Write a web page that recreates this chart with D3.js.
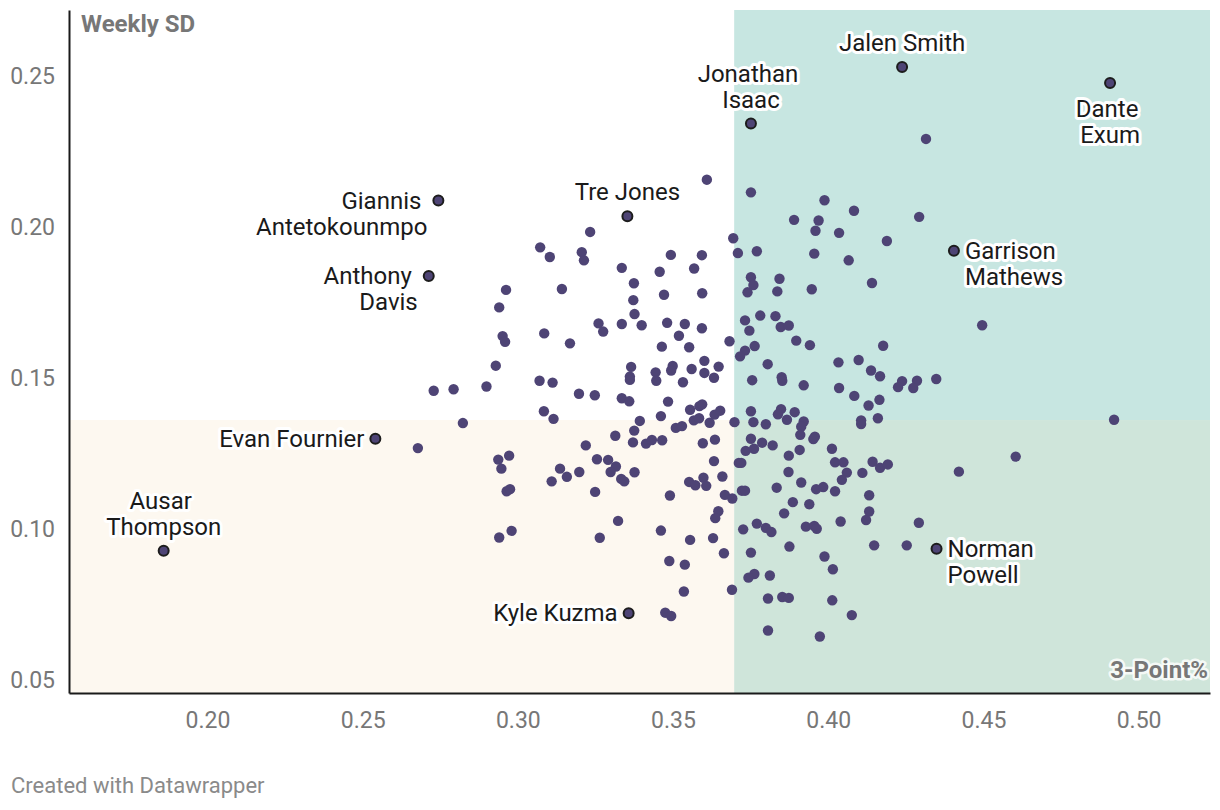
<!DOCTYPE html>
<html>
<head>
<meta charset="utf-8">
<script src="https://cdn.jsdelivr.net/npm/d3@7"></script>
<style>
  html, body { margin: 0; padding: 0; background: #fff; }
  svg { display: block; font-family: Roboto, "Noto Sans", sans-serif; }
</style>
</head>
<body>
<script>
// ---------- data ----------
// Unlabeled players: 3-point % (x) and weekly standard deviation (y)
const threePct = [
  0.3609,0.3751,0.3890,0.3969,0.3959,0.3233,0.3694,0.3072,0.3103,0.3206,
  0.3213,0.3493,0.3593,0.3709,0.3770,0.3955,0.3335,0.3457,0.3568,0.3374,
  0.3751,0.3759,0.3843,0.3740,0.3836,0.3947,0.2962,0.3142,0.3471,0.3594,
  0.4315,0.3988,0.4083,0.4035,0.4293,0.4189,0.4066,0.4141,
  0.3372,0.2940,0.3376,0.3260,0.3275,0.3335,0.3399,0.3481,0.3538,0.3593,
  0.3732,0.3781,0.3830,0.3746,0.3847,0.3873,0.3085,0.2951,0.2959,0.3168,
  0.3519,0.3464,0.3552,0.3682,0.3897,0.3941,0.3763,0.3732,0.3716,0.3805,
  0.2929,0.3365,0.3444,0.3499,0.3494,0.3601,0.3647,0.3560,0.3601,0.3361,
  0.3361,0.3446,0.3532,0.3632,0.3755,0.3850,0.3852,0.3921,0.2729,0.2793,
  0.2899,0.3070,0.3112,0.3197,0.3248,0.3335,0.3359,0.3484,0.3084,0.3115,
  0.3555,0.3585,0.3594,0.3461,0.3634,0.3652,0.3567,0.3584,0.3618,0.3751,
  0.3848,0.3838,0.3892,0.3698,0.3759,0.3799,0.3867,0.3921,0.3913,0.2823,
  0.3393,0.3375,0.3509,0.3529,0.3314,0.2678,0.3219,0.3371,0.3413,0.3432,
  0.3465,0.3596,0.3635,0.3751,0.3787,0.3821,0.3734,0.3761,0.3910,0.3908,
  0.3957,0.3873,0.2937,0.2972,0.2947,0.3255,0.3291,0.3316,0.3299,0.3136,
  0.3198,0.3158,0.3109,0.3333,0.3343,0.3376,0.3632,0.3712,0.3720,0.3872,
  0.3913,0.3659,0.3552,0.3572,0.3598,0.3607,0.3722,0.3732,0.3834,0.3961,
  0.2964,0.2975,0.3249,0.3490,0.3667,0.3691,0.3886,0.3939,0.3646,0.3636,
  0.3858,0.3323,0.3770,0.3799,0.3817,0.3726,0.3928,0.3955,0.3963,0.2940,
  0.2980,0.3264,0.3461,0.3555,0.3629,0.3664,0.3751,0.3875,0.3488,0.3538,
  0.3762,0.3743,0.3812,0.3535,0.3690,0.3806,0.3852,0.3873,0.3806,0.3475,
  0.3494,0.4496,0.4177,0.4033,0.4098,0.4138,0.4167,0.4035,0.4084,0.4130,
  0.4165,0.4238,0.4225,0.4286,0.4274,0.4348,0.4106,0.4106,0.4160,0.4921,
  0.3952,0.4012,0.4604,0.4022,0.4049,0.4143,0.4167,0.4192,0.4060,0.4110,
  0.4421,0.4044,0.3984,0.4022,0.4132,0.4132,0.4122,0.4040,0.4292,
  0.4148,0.4253,0.3988,0.4015,0.4013,0.4076,0.3973
];
const weeklySD = [
  0.2157,0.2115,0.2024,0.2022,0.1988,0.1984,0.1963,0.1933,0.1901,0.1917,
  0.1890,0.1908,0.1907,0.1914,0.1920,0.1912,0.1865,0.1852,0.1863,0.1814,
  0.1834,0.1808,0.1829,0.1784,0.1787,0.1794,0.1792,0.1795,0.1776,0.1781,
  0.2292,0.2089,0.2054,0.1981,0.2034,0.1954,0.1890,0.1815,
  0.1758,0.1734,0.1712,0.1681,0.1654,0.1679,0.1675,0.1683,0.1679,0.1665,
  0.1691,0.1707,0.1705,0.1657,0.1669,0.1674,0.1648,0.1639,0.1620,0.1615,
  0.1640,0.1604,0.1602,0.1622,0.1624,0.1609,0.1606,0.1591,0.1572,0.1546,
  0.1541,0.1537,0.1519,0.1540,0.1525,0.1557,0.1538,0.1530,0.1517,0.1505,
  0.1494,0.1491,0.1486,0.1501,0.1493,0.1503,0.1491,0.1476,0.1458,0.1463,
  0.1472,0.1491,0.1485,0.1448,0.1443,0.1433,0.1423,0.1422,0.1390,0.1365,
  0.1395,0.1407,0.1413,0.1374,0.1379,0.1392,0.1360,0.1367,0.1352,0.1390,
  0.1397,0.1380,0.1387,0.1354,0.1354,0.1347,0.1362,0.1356,0.1339,0.1351,
  0.1358,0.1326,0.1335,0.1341,0.1309,0.1268,0.1277,0.1287,0.1283,0.1295,
  0.1294,0.1284,0.1296,0.1299,0.1286,0.1277,0.1259,0.1266,0.1312,0.1262,
  0.1306,0.1243,0.1230,0.1243,0.1200,0.1231,0.1229,0.1207,0.1189,0.1200,
  0.1189,0.1173,0.1158,0.1166,0.1158,0.1188,0.1225,0.1219,0.1219,0.1189,
  0.1154,0.1174,0.1156,0.1145,0.1170,0.1143,0.1127,0.1127,0.1137,0.1132,
  0.1125,0.1132,0.1123,0.1111,0.1113,0.1101,0.1089,0.1082,0.1059,0.1036,
  0.1052,0.1027,0.1018,0.1004,0.0990,0.0999,0.1008,0.1010,0.1001,0.0972,
  0.0994,0.0971,0.0995,0.0964,0.0970,0.0920,0.0922,0.0942,0.0894,0.0882,
  0.0851,0.0839,0.0846,0.0793,0.0799,0.0770,0.0775,0.0772,0.0664,0.0723,
  0.0712,0.1675,0.1607,0.1552,0.1560,0.1525,0.1506,0.1467,0.1441,0.1409,
  0.1428,0.1490,0.1470,0.1491,0.1467,0.1497,0.1360,0.1348,0.1367,0.1362,
  0.1298,0.1266,0.1240,0.1221,0.1221,0.1223,0.1203,0.1214,0.1187,0.1186,
  0.1190,0.1163,0.1139,0.1125,0.1112,0.1058,0.1030,0.1025,0.1021,
  0.0946,0.0946,0.0909,0.0867,0.0764,0.0715,0.0644
];

// Labeled players
const labelNames = ["Jalen Smith","Dante Exum","Jonathan Isaac","Giannis Antetokounmpo","Anthony Davis",
                    "Tre Jones","Garrison Mathews","Evan Fournier","Ausar Thompson","Kyle Kuzma","Norman Powell"];
const labelLines = [["Jalen Smith"],["Dante","Exum"],["Jonathan","Isaac"],["Giannis","Antetokounmpo"],["Anthony","Davis"],
                    ["Tre Jones"],["Garrison","Mathews"],["Evan Fournier"],["Ausar","Thompson"],["Kyle Kuzma"],["Norman","Powell"]];
const labelThreePct = [0.4238,0.4908,0.3751,0.2744,0.2713,0.3353,0.4405,0.2541,0.1859,0.3357,0.4349];
const labelWeeklySD = [0.2530,0.2477,0.2343,0.2088,0.1838,0.2036,0.1922,0.1299,0.0928,0.0721,0.0935];
const labelPlacement = ["top","bottom","top","left","left","top","right","left","top","left","right"];

// Axis ticks and reference (average) lines
const xTicks = [0.20,0.25,0.30,0.35,0.40,0.45,0.50];
const yTicks = [0.05,0.10,0.15,0.20,0.25];
const xDomain = [0.1554, 0.5230];
const yDomain = [0.0457, 0.2719];
const avgThreePct = 0.3697;
const avgWeeklySD = 0.1361;

// ---------- chart ----------
(function () {
const W = 1220, H = 810;
const mLeft = 69, mRight = 1210, mTop = 10, mBottom = 693;

const svg = d3.select("body").append("svg").attr("width", W).attr("height", H);

const x = d3.scaleLinear().domain(xDomain).range([mLeft, mRight]);
const y = d3.scaleLinear().domain(yDomain).range([mBottom, mTop]);

// quadrant backgrounds
const bg = svg.append("g");
bg.append("rect")
  .attr("x", x(xDomain[0])).attr("y", y(avgWeeklySD))
  .attr("width", x(avgThreePct) - x(xDomain[0])).attr("height", y(yDomain[0]) - y(avgWeeklySD))
  .attr("fill", "#fdf8f0");
bg.append("rect")
  .attr("x", x(avgThreePct)).attr("y", y(yDomain[1]))
  .attr("width", x(xDomain[1]) - x(avgThreePct)).attr("height", y(avgWeeklySD) - y(yDomain[1]))
  .attr("fill", "#c7e6e1");
bg.append("rect")
  .attr("x", x(avgThreePct)).attr("y", y(avgWeeklySD))
  .attr("width", x(xDomain[1]) - x(avgThreePct)).attr("height", y(yDomain[0]) - y(avgWeeklySD))
  .attr("fill", "#cfe5da");

// axes
const fmt = d3.format(".2f");
const gy = svg.append("g").attr("transform", `translate(${mLeft},0)`)
  .call(d3.axisLeft(y).tickValues(yTicks).tickSize(0).tickSizeOuter(0).tickPadding(14).tickFormat(fmt));
const gx = svg.append("g").attr("transform", `translate(0,${mBottom})`)
  .call(d3.axisBottom(x).tickValues(xTicks).tickSize(0).tickSizeOuter(0).tickPadding(19).tickFormat(fmt));
[gx, gy].forEach(g => {
  g.select(".domain").attr("stroke", "#1a1a1a").attr("stroke-width", 2);
  g.selectAll("text").attr("fill", "#777").style("font-size", "23px").style("font-family", "Roboto");
});

// axis titles
svg.append("text").attr("x", 81).attr("y", 32)
  .attr("fill", "#777").style("font-size", "24px").style("font-weight", "700")
  .text("Weekly SD");
svg.append("text").attr("x", 1208).attr("y", 678).attr("text-anchor", "end")
  .attr("fill", "#777").style("font-size", "24px").style("font-weight", "700")
  .attr("stroke", "#fff").attr("stroke-width", 5).attr("stroke-linejoin", "round")
  .attr("stroke-opacity", 0.8).style("paint-order", "stroke")
  .text("3-Point%");

// points
const pts = threePct.map((v, i) => ({x: v, y: weeklySD[i]}));
svg.append("g").selectAll("circle").data(pts).join("circle")
  .attr("cx", d => x(d.x)).attr("cy", d => y(d.y)).attr("r", 5.2)
  .attr("fill", "#4e4475");

// labeled points
const lab = labelNames.map((n, i) => ({name: n, lines: labelLines[i], x: labelThreePct[i], y: labelWeeklySD[i], pos: labelPlacement[i]}));
svg.append("g").selectAll("circle").data(lab).join("circle")
  .attr("cx", d => x(d.x)).attr("cy", d => y(d.y)).attr("r", 5)
  .attr("fill", "#4e4475").attr("stroke", "#1d1d1d").attr("stroke-width", 2);

const LH = 26;
const lg = svg.append("g");
lab.forEach(d => {
  const px = x(d.x), py = y(d.y);
  const n = d.lines.length;
  let anchor, tx, firstBase;
  if (d.pos === "top") { anchor = "middle"; tx = px; firstBase = py - 16 - (n - 1) * LH; }
  else if (d.pos === "bottom") { anchor = "middle"; tx = px; firstBase = py + 34; }
  else if (d.pos === "left") { anchor = "end"; tx = px - 11; firstBase = py + 8; }
  else { anchor = "start"; tx = px + 11; firstBase = py + 8; }
  d.lines.forEach((line, k) => {
    const txt = k < n - 1 ? line + "\u00a0" : line;
    lg.append("text")
      .attr("x", tx).attr("y", firstBase + k * LH)
      .attr("text-anchor", anchor)
      .attr("fill", "#1a1a1a")
      .attr("stroke", "#fff").attr("stroke-width", 6).attr("stroke-linejoin", "round")
      .style("paint-order", "stroke")
      .style("font-size", "24px")
      .text(txt);
  });
});

// footer
svg.append("text").attr("x", 11).attr("y", 793)
  .attr("fill", "#8a8a8a").style("font-size", "22px")
  .text("Created with Datawrapper");
})();
</script>
</body>
</html>
